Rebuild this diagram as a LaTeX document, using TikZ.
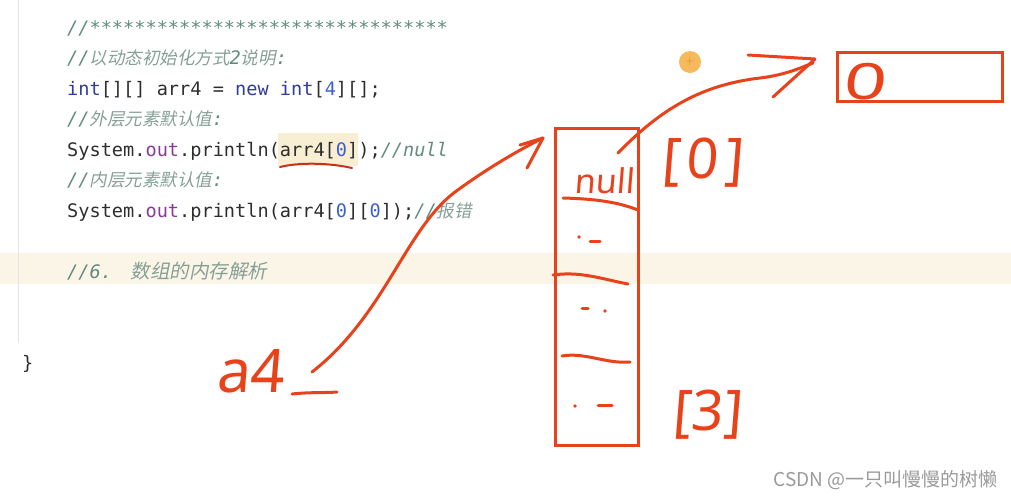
\documentclass[tikz,border=0pt]{standalone}
\usepackage{fontspec}
\newfontfamily\codefont{DejaVu Sans Mono}
\newfontfamily\cjkit[FakeSlant=0.2]{Noto Sans CJK SC}
\newfontfamily\cjkup{Noto Sans CJK SC}
\newfontfamily\handfont[FakeSlant=0.08]{Noto Sans}
\definecolor{codegray}{HTML}{2E2E2E}
\definecolor{cmt}{HTML}{5F8C7C}
\definecolor{cmtcjk}{HTML}{86A096}
\definecolor{kwblue}{HTML}{2F3C9C}
\definecolor{numblue}{HTML}{3E5FCF}
\definecolor{fldpurple}{HTML}{8A3A9A}
\definecolor{hlbox}{HTML}{F8EED3}
\definecolor{rowband}{HTML}{FBF5E8}
\definecolor{gutter}{HTML}{E4E4E4}
\definecolor{penred}{HTML}{E8421B}
\definecolor{ulred}{HTML}{C8321A}
\definecolor{dotorange}{HTML}{F6B95C}
\definecolor{plusorange}{HTML}{D9822B}
\definecolor{wmgray}{HTML}{9A9A9A}
\newcommand\mycm[1]{{\color{cmt}\itshape #1}}
\newcommand\mycz[1]{{\color{cmtcjk}\cjkit\fontsize{17.5}{20}\selectfont #1}}
\newcommand\mykw[1]{{\color{kwblue}#1}}
\newcommand\mynum[1]{{\color{numblue}#1}}
\newcommand\myfld[1]{{\color{fldpurple}#1}}
\begin{document}
\begin{tikzpicture}[x=1pt,y=-1pt,
  codeline/.style={anchor=base west, inner sep=0pt, text=codegray,
    font=\codefont\fontsize{18.6}{20}\selectfont},
  pen/.style={draw=penred, line width=3pt, line cap=round, line join=round},
  penbox/.style={draw=penred, line width=3pt, inner sep=0pt},
  handtxt/.style={text=penred, inner sep=0pt, font=\handfont\fontsize{#1}{#1}\selectfont},
  handtxt/.default=34
]
\useasboundingbox (0,0) rectangle (1011,499);
% editor background
\fill[rowband] (0,253) rectangle (1011,284);
\draw[gutter, line width=1pt] (18,0) -- (18,343);
\fill[hlbox] (278,133) rectangle (358,166);
% code
\node[codeline] (l1) at (67,34) {\mycm{//********************************}};
\node[codeline] (l2) at (67,64.5) {\mycm{//}\mycz{以动态初始化方式}\mycm{2}\mycz{说明}\mycm{:}};
\node[codeline] (l3) at (67,95) {\mykw{int}[][] arr4 = \mykw{new int}[\mynum{4}][];};
\node[codeline] (l4) at (67,125.5) {\mycm{//}\mycz{外层元素默认值}\mycm{:}};
\node[codeline] (l5) at (67,156) {System.\myfld{out}.println(arr4[\mynum{0}]);\mycm{//null}};
\node[codeline] (l6) at (67,186.5) {\mycm{//}\mycz{内层元素默认值}\mycm{:}};
\node[codeline] (l7) at (67,217) {System.\myfld{out}.println(arr4[\mynum{0}][\mynum{0}]);\mycm{//}\mycz{报错}};
\node[codeline] (l8) at (67,278) {\mycm{//6.\hspace{4pt} }{\color{cmtcjk}\cjkit\fontsize{19.5}{20}\selectfont 数组的内存解析}};
\node[codeline] (rb) at (22,369) {\}};
% red underline under arr4[0]
\draw[ulred, line width=2pt, line cap=round] (280,167) .. controls (300,162) and (330,163) .. (352,168);
% orange cursor dot
\node[circle, fill=dotorange, minimum size=22pt, inner sep=0pt, text=plusorange,
  font=\sffamily\fontsize{12}{12}\selectfont] (cursor) at (690,62) {+};
% array box
\node[penbox, minimum width=83pt, minimum height=317pt] (arr) at (596.5,286.5) {};
\draw[pen] (563,198) .. controls (600,199) and (620,203) .. (638,210);
\draw[pen] (553,275) .. controls (580,271) and (602,279) .. (628,284);
\draw[pen] (562,356) .. controls (585,352) and (606,364) .. (630,362);
\node[handtxt=34] (nulltxt) at (604,181) {null};
% ellipsis marks
\fill[penred] (579,237) circle (1.8pt);
\draw[pen] (590,241) -- (600,241);
\draw[pen] (582,308) -- (588,308);
\fill[penred] (605,311) circle (1.8pt);
\fill[penred] (575,406) circle (1.8pt);
\draw[pen] (598,405) -- (612,405);
% index labels
\node[handtxt=56] (idx0) at (702,163) {[\hspace{6pt}0\hspace{6pt}]};
\node[handtxt=56] (idx3) at (707,415) {[3]};
% object box
\node[penbox, minimum width=165pt, minimum height=49pt] (obj) at (920,76.5) {};
\node[handtxt=50, xscale=1.5] (zero) at (864,82) {0};
% a4 label
\node[handtxt=60] (a4) at (250,371) {a4};
\coordinate (a4tail) at (312,372);
\draw[pen] (292,394) .. controls (310,392) and (325,393) .. (337,392);
% connector a4 -> array
\coordinate (arrin) at (543,138);
\draw[pen] (a4tail) .. controls (385,315) and (405,230) .. (455,192) .. controls (485,170) and (515,152) .. (arrin);
\draw[pen] (520,145) -- (arrin) -- (527,168);
% connector array[0] -> object
\coordinate (nulltail) at (618,153);
\coordinate (objin) at (813,63);
\draw[pen] (nulltail) .. controls (660,110) and (700,85) .. (760,78) .. controls (785,75) and (800,68) .. (objin);
\draw[pen] (748,55) -- (815,59) -- (773,97);
% watermark
\node[anchor=east, inner sep=0pt, text=wmgray, font=\cjkup\fontsize{19}{20}\selectfont] (wm) at (998,480) {CSDN @一只叫慢慢的树懒};
\end{tikzpicture}
\end{document}
